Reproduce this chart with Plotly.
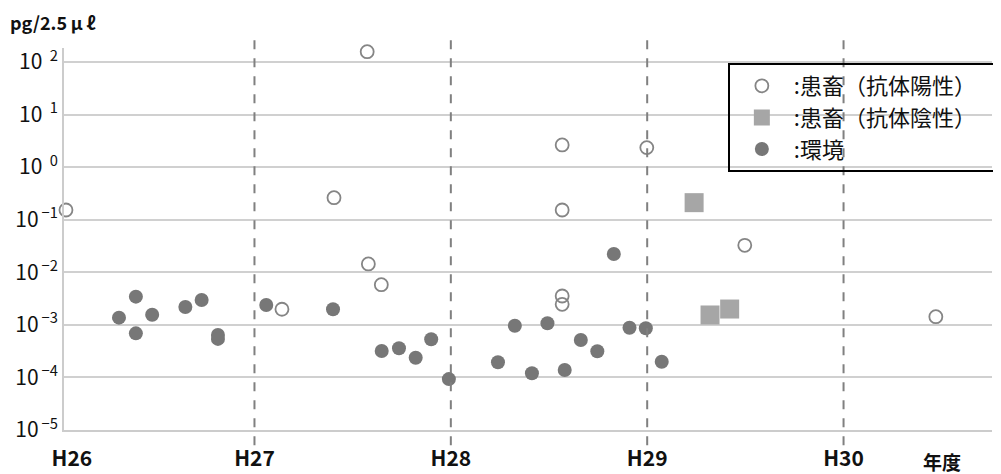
import plotly.graph_objects as go

# Fiscal-year positions (H26 = 26 ...) and concentrations (pg/2.5 μℓ)
pos_x = [26.04, 27.574, 27.405, 27.58, 27.646, 27.14, 28.567, 28.567, 28.567, 28.567, 28.998, 29.497, 30.47]
pos_y = [0.153, 157, 0.262, 0.0144, 0.0058, 0.00198, 2.64, 0.153, 0.00354, 0.00246, 2.35, 0.0326, 0.00143]

neg_x = [29.239, 29.32, 29.42]
neg_y = [0.211, 0.00154, 0.0020]

env_x = [26.31, 26.396, 26.396, 26.479, 26.648, 26.731, 26.814, 26.814,
         27.06, 27.40, 27.648, 27.736, 27.821, 27.90, 27.99,
         28.24, 28.326, 28.413, 28.492, 28.58, 28.662, 28.746, 28.83, 28.91, 28.993, 29.074]
env_y = [0.00137, 0.00344, 0.00069, 0.00156, 0.00219, 0.00297, 0.00064, 0.00054,
         0.00239, 0.00198, 0.000318, 0.000358, 0.000237, 0.000531, 0.000093,
         0.000194, 0.000964, 0.00012, 0.00107, 0.000138, 0.000515, 0.000314, 0.0223, 0.000883, 0.000859, 0.000199]

year_ticks = [26.07, 27, 28, 29, 30]
year_labels = ["H26", "H27", "H28", "H29", "H30"]
year_lines = [27, 28, 29, 30]

y_ticks = [1e-5, 1e-4, 1e-3, 1e-2, 1e-1, 1, 10, 100]
y_exps = ["\u2009−5", "\u2009−4", "\u2009−3", "\u2009−2", "\u2009−1", "\u20020", "\u20021", "\u20022"]
y_labels = ["10<sup>" + e + "</sup>" for e in y_exps]

FONT = "Noto Sans CJK JP"

# The page body has an 8px default margin; the figure is sized/offset to compensate.
W, H = 993, 466
L, T, PW, PH = 56, 40, 931, 382

fig = go.Figure()
fig.add_trace(go.Scatter(
    x=env_x, y=env_y, mode="markers", name=":環境",
    marker=dict(symbol="circle", size=14, color="#777777", line=dict(width=0)),
    cliponaxis=False, legendrank=3))
fig.add_trace(go.Scatter(
    x=neg_x, y=neg_y, mode="markers", name=":患畜（抗体陰性）\u2002",
    marker=dict(symbol="square", size=19, color="#a6a6a6", line=dict(width=0)),
    cliponaxis=False, legendrank=2))
fig.add_trace(go.Scatter(
    x=pos_x, y=pos_y, mode="markers", name=":患畜（抗体陽性）\u2002",
    marker=dict(symbol="circle-open", size=13, color="#858585", line=dict(width=1.8)),
    cliponaxis=False, legendrank=1))

for yr in year_lines:
    fig.add_shape(type="line", xref="x", yref="paper", x0=yr, x1=yr, y0=-0.04, y1=1.042,
                  line=dict(color="#808080", width=2, dash="dash"), layer="above")

fig.add_annotation(text="<b>pg/2.5\u2009μ\u2009ℓ</b>", xref="paper", yref="paper",
                   x=-(64 - 8) / PW, y=(430 - 22) / PH, xanchor="left", yanchor="middle",
                   showarrow=False, font=dict(family=FONT, size=18, color="#111111"))
fig.add_annotation(text="<b>年度</b>", xref="paper", yref="paper",
                   x=(945 - 64) / PW, y=-(461 - 430) / PH, xanchor="center", yanchor="middle",
                   showarrow=False, font=dict(family=FONT, size=19, color="#111111"))

fig.update_xaxes(range=[26.03, 30.756], tickvals=year_ticks, ticktext=year_labels,
                 showgrid=False, zeroline=False, showline=True, linecolor="#cccccc", linewidth=2,
                 ticks="", ticklabelstandoff=9, automargin=False,
                 tickfont=dict(family=FONT, size=21, color="#111111", weight="bold"))
fig.update_yaxes(type="log", range=[-5, 2.266], tickvals=y_ticks, ticktext=y_labels,
                 showgrid=True, gridcolor="#d0d0d0", gridwidth=1.5, zeroline=False,
                 showline=True, linecolor="#cccccc", linewidth=2, ticks="", automargin=False,
                 tickfont=dict(family=FONT, size=21, color="#111111"))

fig.update_layout(
    width=W, height=H,
    margin=dict(l=L, r=W - L - PW, t=T, b=H - T - PH),
    paper_bgcolor="white", plot_bgcolor="white",
    showlegend=True,
    legend=dict(x=(730 - 64) / PW, y=(430 - 63) / PH, xanchor="left", yanchor="top",
                bgcolor="rgba(0,0,0,0)", bordercolor="#000000", borderwidth=2,
                font=dict(family=FONT, size=22, color="#111111"),
                traceorder="normal", itemwidth=54),
)

fig.write_html("out.html")
